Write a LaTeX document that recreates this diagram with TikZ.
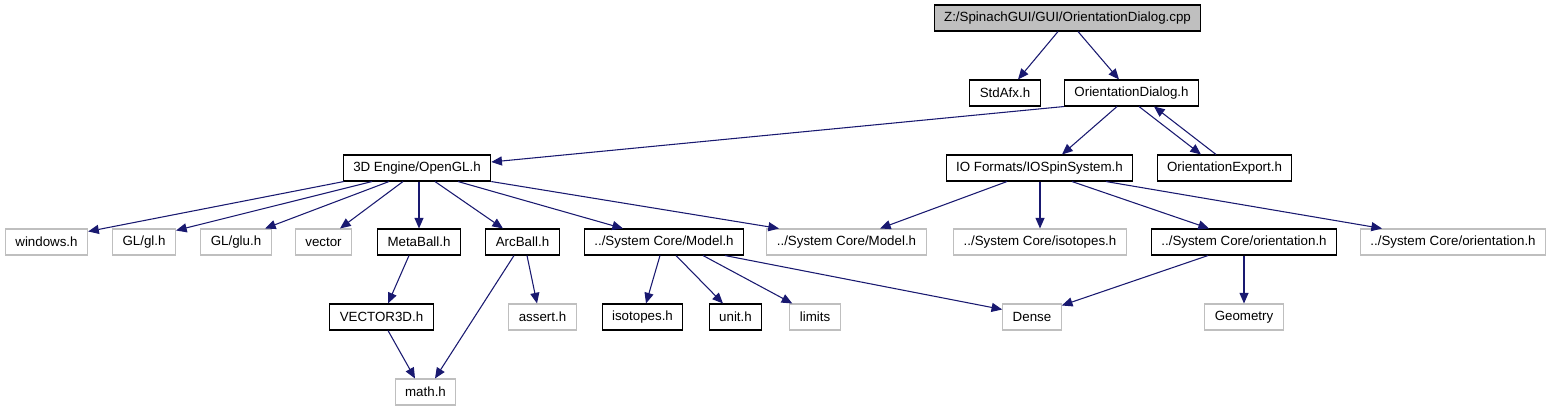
\documentclass[tikz,border=0pt]{standalone}
\usepackage{fontspec}
\setmainfont{Liberation Sans}
\usetikzlibrary{arrows.meta,calc}
\definecolor{edgeblue}{HTML}{191970}
\definecolor{extgray}{HTML}{BFBFBF}

\begin{document}
\begin{tikzpicture}[x=0.75pt,y=-0.75pt,
 file/.style={draw=black,line width=0.8pt,fill=white,minimum height=19.5pt,inner xsep=7.5pt,inner ysep=0pt,font=\fontsize{10}{12}\selectfont},
 extfile/.style={file,draw=extgray},
 edge/.style={draw=edgeblue,line width=0.8pt,-{Triangle[length=8pt,width=6.8pt]}}]
\useasboundingbox (0,0) rectangle (1551,411);
% rows 1 and 2
\node[file,fill=extgray] (cpp) at (1067.5,18) {Z:/SpinachGUI/GUI/OrientationDialog.cpp};
\node[file] (stdafx) at (1005,93) {StdAfx.h};
\node[file] (odlg) at (1131.5,93) {OrientationDialog.h};
\node[file] (opengl) at (417,168) {3D Engine/OpenGL.h};
\node[file] (iospin) at (1039.5,168) {IO Formats/IOSpinSystem.h};
\node[file] (oexport) at (1224.5,168) {OrientationExport.h};
% row 3
\node[extfile] (windows) at (46.5,242) {windows.h};
\node[extfile] (gl) at (144,242) {GL/gl.h};
\node[extfile] (glu) at (236,242) {GL/glu.h};
\node[extfile] (vector) at (323.5,242) {vector};
\node[file] (metaball) at (419,242) {MetaBall.h};
\node[file] (arcball) at (522.5,242) {ArcBall.h};
\node[file] (modelA) at (664,242) {../System Core/Model.h};
\node[extfile] (modelB) at (846.5,242) {../System Core/Model.h};
\node[extfile] (isotopesB) at (1040,242) {../System Core/isotopes.h};
\node[file] (orientA) at (1244,242) {../System Core/orientation.h};
\node[extfile] (orientB) at (1453,242) {../System Core/orientation.h};
% rows 4 and 5
\node[file] (vector3d) at (381.5,317) {VECTOR3D.h};
\node[extfile] (assert) at (542.5,317) {assert.h};
\node[file] (isotopes) at (642.5,317) {isotopes.h};
\node[file] (unit) at (735.5,317) {unit.h};
\node[extfile] (limits) at (815,317) {limits};
\node[extfile] (dense) at (1032,317) {Dense};
\node[extfile] (geometry) at (1244,317) {Geometry};
\node[extfile] (math) at (425.5,392) {math.h};
% edges, bottom of source to top of target
\foreach \s/\a/\t/\b in {cpp/-9.5/stdafx/13, cpp/10.5/odlg/-12.5,
  odlg/-14.5/iospin/22.5, odlg/7.5/oexport/-23.5,
  opengl/-28/glu/29, opengl/-14/vector/16.5, opengl/2/metaball/0,
  opengl/18/arcball/-19.5, opengl/41/modelA/-41,
  iospin/-32.5/modelB/33.5, iospin/0.5/isotopesB/0,
  iospin/32.5/orientA/-35, iospin/66.5/orientB/-71,
  metaball/-10/vector3d/6.5, vector3d/6.5/math/-10.5,
  arcball/-8.5/math/9.5, arcball/4.5/assert/-5.5,
  modelA/-4/isotopes/3.5, modelA/12/unit/-12.5,
  orientA/0/geometry/0}
  \draw[edge] ($(\s.south)+(\a,0)$) -- ($(\t.north)+(\b,0)$);
% the other edges
\draw[edge] ($(oexport.north)+(-8.5,0)$) -- ($(odlg.south)+(22.5,0)$);
\draw[edge] (odlg.south west) -- ($(opengl.east)+(0,-6)$);
\draw[edge] ($(opengl.south west)+(1,0)$) -- ($(windows.north east)+(0,3)$);
\draw[edge] ($(opengl.south)+(-45,0)$) -- ($(gl.north east)+(0,2)$);
\draw[edge] (opengl.south east) -- ($(modelB.north)+(-67.5,0)$);
\draw[edge] ($(modelA.south)+(39,0)$) -- ($(limits.north west)+(3,0)$);
\draw[edge] ($(modelA.south)+(61,0)$) -- ($(dense.north west)+(0,6)$);
\draw[edge] ($(orientA.south)+(-36,0)$) -- ($(dense.north east)+(0,2)$);
\end{tikzpicture}
\end{document}
